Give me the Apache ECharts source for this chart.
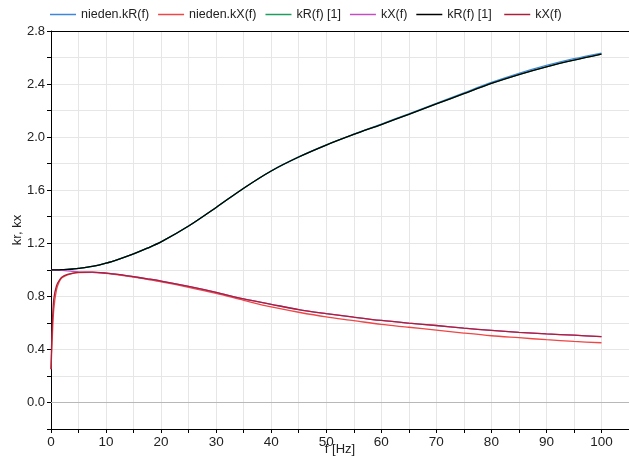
<!DOCTYPE html>
<html>
<head>
<meta charset="utf-8">
<script src="https://cdn.jsdelivr.net/npm/echarts@6/dist/echarts.min.js"></script>
<style>html,body{margin:0;padding:0;background:#fff;}#c{width:629px;height:459px;}</style>
</head>
<body>
<div id="c"></div>
<script>
var freq = [0, 0.2, 0.5, 1, 1.5, 2, 3, 4, 5, 7.5, 10, 12.5, 15, 17.5, 20, 25, 30, 35, 40, 45, 50, 55, 60, 65, 70, 75, 80, 85, 90, 95, 100];
var niedenKR = [1.0, 1.0, 1.0, 1.0, 1.0, 1.001, 1.003, 1.006, 1.01, 1.025, 1.05, 1.083, 1.12, 1.163, 1.21, 1.33, 1.47, 1.615, 1.745, 1.851, 1.942, 2.022, 2.098, 2.176, 2.255, 2.334, 2.412, 2.481, 2.54, 2.591, 2.634];
var niedenKX = [0.25, 0.45, 0.70, 0.85, 0.91, 0.94, 0.962, 0.973, 0.978, 0.98, 0.973, 0.96, 0.945, 0.928, 0.91, 0.868, 0.822, 0.77, 0.72, 0.68, 0.645, 0.617, 0.588, 0.567, 0.545, 0.523, 0.503, 0.488, 0.473, 0.46, 0.45];
var kR1a = [1.0, 1.0, 1.0, 1.0, 1.0, 1.001, 1.003, 1.006, 1.01, 1.025, 1.05, 1.083, 1.12, 1.163, 1.21, 1.33, 1.47, 1.615, 1.745, 1.85, 1.94, 2.02, 2.095, 2.172, 2.25, 2.328, 2.405, 2.472, 2.53, 2.58, 2.625];
var kXa = [1.0, 1.0, 0.999, 0.998, 0.997, 0.995, 0.992, 0.988, 0.985, 0.98, 0.975, 0.963, 0.948, 0.932, 0.915, 0.875, 0.83, 0.78, 0.74, 0.70, 0.67, 0.643, 0.618, 0.598, 0.58, 0.56, 0.543, 0.528, 0.517, 0.507, 0.497];
var kR1b = [1.0, 1.0, 1.0, 1.0, 1.0, 1.001, 1.003, 1.006, 1.01, 1.025, 1.05, 1.083, 1.12, 1.163, 1.21, 1.33, 1.47, 1.615, 1.745, 1.85, 1.94, 2.02, 2.095, 2.172, 2.25, 2.328, 2.405, 2.472, 2.53, 2.58, 2.625];
var kXb = [0.25, 0.55, 0.78, 0.88, 0.92, 0.945, 0.965, 0.975, 0.98, 0.982, 0.975, 0.963, 0.948, 0.932, 0.915, 0.875, 0.83, 0.78, 0.74, 0.70, 0.67, 0.643, 0.618, 0.598, 0.58, 0.56, 0.543, 0.528, 0.517, 0.507, 0.497];

var seriesNames = ['nieden.kR(f)', 'nieden.kX(f)', 'kR(f) [1]', 'kX(f)', 'kR(f) [1] ', 'kX(f) '];
var seriesValues = [niedenKR, niedenKX, kR1a, kXa, kR1b, kXb];
var seriesColors = ['#3c86dc', '#f04646', '#1e9e5e', '#c050c0', '#000000', '#a8203a'];

var FONT = '"Liberation Sans", Arial, sans-serif';

function pairs(vals) { return freq.map(function (f, i) { return [f, vals[i]]; }); }

var series = seriesNames.map(function (n, i) {
  var s = {
    name: n, type: 'line', data: pairs(seriesValues[i]),
    symbol: 'none', showSymbol: false, smooth: 0.3,
    color: seriesColors[i],
    lineStyle: { color: seriesColors[i], width: 1.3 },
    itemStyle: { color: seriesColors[i] },
    animation: false
  };
  if (i === 0) {
    s.markLine = {
      silent: true, symbol: 'none', animation: false,
      label: { show: false },
      lineStyle: { color: '#b8b8b8', type: 'solid', width: 1 },
      data: [{ yAxis: 0 }]
    };
  }
  return s;
});

var chart = echarts.init(document.getElementById('c'), null, { renderer: 'canvas' });
chart.setOption({
  backgroundColor: '#fff',
  animation: false,
  legend: {
    show: true, left: 45, top: 3, itemWidth: 26, itemHeight: 1.5, itemGap: 9,
    icon: 'rect',
    textStyle: { fontFamily: FONT, fontSize: 12.5, color: '#222' }
  },
  grid: { left: 51, right: 0, top: 31, bottom: 30, containLabel: false, outerBoundsMode: 'none' },
  xAxis: [{
    type: 'value', min: 0, max: 105, interval: 5,
    name: 'f [Hz]', nameLocation: 'middle', nameGap: 14, nameMoveOverlap: false,
    nameTextStyle: { fontFamily: FONT, fontSize: 13, color: '#222' },
    axisLine: { show: true, onZero: false, lineStyle: { color: '#000', width: 1 } },
    axisTick: { show: true, length: 4, lineStyle: { color: '#000' } },
    axisLabel: {
      fontFamily: FONT, fontSize: 13.5, color: '#222', margin: 6,
      formatter: function (v) { return (Math.round(v) % 10 === 0 && v <= 100) ? String(Math.round(v)) : ''; }
    },
    splitLine: { show: true, lineStyle: { color: '#e6e6e6', width: 1 } }
  }, {
    type: 'value', min: 0, max: 105, position: 'top',
    axisLine: { show: true, onZero: false, lineStyle: { color: '#000', width: 1 } },
    axisTick: { show: false }, axisLabel: { show: false }, splitLine: { show: false }
  }],
  yAxis: {
    type: 'value', min: -0.2, max: 2.8, interval: 0.2,
    name: 'kr, kx', nameLocation: 'middle', nameGap: 27, nameRotate: 90, nameMoveOverlap: false,
    nameTextStyle: { fontFamily: FONT, fontSize: 13, color: '#222' },
    axisLine: { show: true, onZero: false, lineStyle: { color: '#000', width: 1 } },
    axisTick: { show: true, length: 4, lineStyle: { color: '#000' } },
    axisLabel: {
      fontFamily: FONT, fontSize: 13, color: '#222', margin: 6,
      formatter: function (v) {
        var k = Math.round(v * 10);
        return (k % 4 === 0) ? (k / 10).toFixed(1) : '';
      }
    },
    splitLine: { show: true, lineStyle: { color: '#e6e6e6', width: 1 } }
  },
  series: series
});
</script>
</body>
</html>
